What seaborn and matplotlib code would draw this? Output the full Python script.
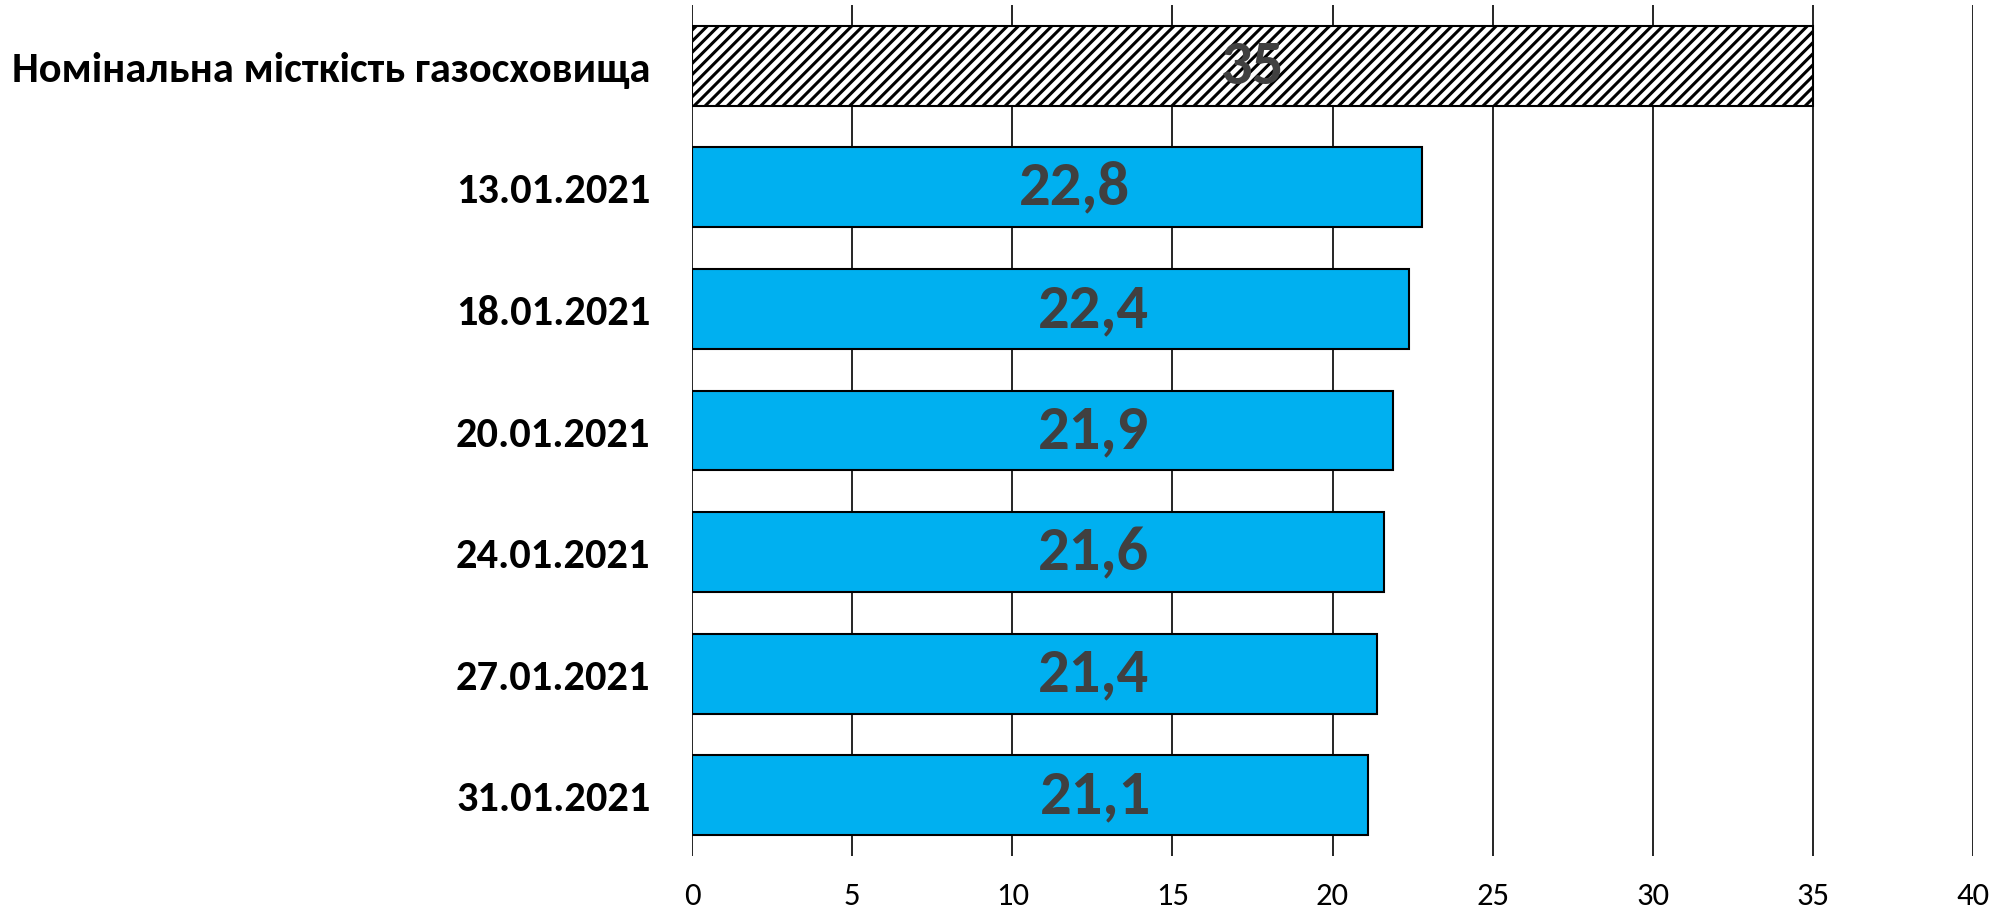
import matplotlib
matplotlib.use("Agg")
import matplotlib.pyplot as plt
import seaborn as sns
import pandas as pd
from matplotlib import font_manager

categories = ["Номінальна місткість газосховища", "13.01.2021", "18.01.2021",
              "20.01.2021", "24.01.2021", "27.01.2021", "31.01.2021"]
values = [35, 22.8, 22.4, 21.9, 21.6, 21.4, 21.1]
value_labels = ["35", "22,8", "22,4", "21,9", "21,6", "21,4", "21,1"]
# where each value label sits along the value axis (as in the source chart)
label_anchor = [17.5, 11.93, 12.53, 12.53, 12.53, 12.53, 12.6]
xticks = [0, 5, 10, 15, 20, 25, 30, 35, 40]

sns.set_theme(style="white")
names = {f.name for f in font_manager.fontManager.ttflist}
fam = [f for f in ["Carlito", "Liberation Sans Narrow", "Open Sans", "DejaVu Sans"] if f in names]
plt.rcParams["font.family"] = fam
plt.rcParams["hatch.linewidth"] = 2.2
plt.rcParams["hatch.color"] = "black"

df = pd.DataFrame({"cat": categories, "val": values})
colors = {c: ("white" if i == 0 else "#00B0F0") for i, c in enumerate(categories)}

fig = plt.figure(figsize=(19.91, 9.12), dpi=100)
ax = fig.add_axes([0.3476, 0.0603, 0.991 - 0.3476, 0.9934 - 0.0603])
sns.barplot(data=df, x="val", y="cat", hue="cat", palette=colors, legend=False,
            orient="h", width=0.657, edgecolor="black", linewidth=1.5,
            saturation=1, ax=ax)

for i, p in enumerate(ax.patches):
    if i == 0:
        p.set_hatch("///")
        p.set_facecolor("white")
        p.set_edgecolor("black")

ax.set_xlim(0, 40)
ax.set_ylim(6.5, -0.5)
ax.set_xticks(xticks)
ax.set_xticklabels([str(t) for t in xticks], fontsize=23.5)
ax.tick_params(axis="x", length=0, pad=18, colors="black")
ax.tick_params(axis="y", length=0, pad=30)
for lbl in ax.get_yticklabels():
    lbl.set_fontsize(30.5)
    lbl.set_fontweight("bold")
    lbl.set_color("black")
ax.set_xlabel("")
ax.set_ylabel("")
ax.set_axisbelow(True)
ax.grid(axis="x", color="black", linewidth=1.2)
ax.grid(axis="y", visible=False)
for s in ax.spines.values():
    s.set_visible(False)

for i, (x, t) in enumerate(zip(label_anchor, value_labels)):
    ax.text(x, i, t, ha="center", va="center", fontsize=45,
            fontweight="bold", color="#404040")

fig.savefig("out.png", dpi=100)
